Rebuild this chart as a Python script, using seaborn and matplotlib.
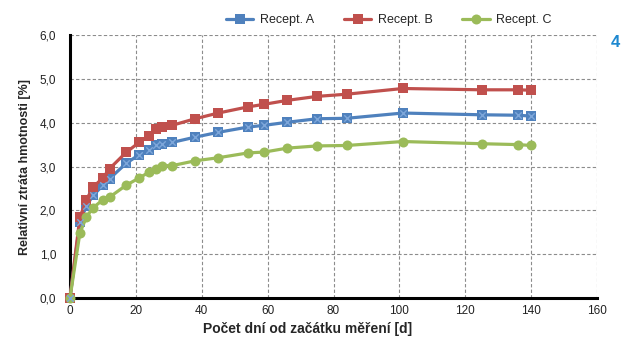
import pandas as pd
import numpy as np
import matplotlib
matplotlib.use("Agg")
import matplotlib.pyplot as plt
import seaborn as sns
from matplotlib.ticker import FuncFormatter

# days of measurement
days = [0, 3, 5, 7, 10, 12, 17, 21, 24, 26, 28, 31, 38, 45, 54, 59, 66,
        75, 84, 101, 125, 136, 140]

# relative mass loss [%]
recept_a = [0.0, 1.74, 2.10, 2.34, 2.57, 2.72, 3.07, 3.27, 3.38, 3.48, 3.52, 3.55,
            3.67, 3.78, 3.90, 3.94, 4.01, 4.09, 4.10, 4.22, 4.18, 4.17, 4.15]
recept_b = [0.0, 1.84, 2.24, 2.53, 2.74, 2.95, 3.32, 3.55, 3.70, 3.85, 3.90, 3.94,
            4.09, 4.22, 4.36, 4.42, 4.51, 4.60, 4.65, 4.78, 4.75, 4.75, 4.74]
recept_c = [0.0, 1.48, 1.85, 2.06, 2.24, 2.30, 2.57, 2.74, 2.87, 2.95, 3.02, 3.02,
            3.13, 3.20, 3.31, 3.33, 3.42, 3.47, 3.48, 3.57, 3.52, 3.50, 3.48]

series_names = ["Recept. A", "Recept. B", "Recept. C"]
colors = ["#4F81BD", "#C0504D", "#9BBB59"]
markers = ["s", "s", "o"]

df = pd.DataFrame({
    "day": days * 3,
    "loss": recept_a + recept_b + recept_c,
    "recept": np.repeat(series_names, len(days)),
})

sns.set_style("white")
plt.rcParams["font.family"] = ["Liberation Sans", "DejaVu Sans"]

fig = plt.figure(figsize=(6.22, 3.40), dpi=100)
ax = fig.add_axes([0.1125, 0.1235, 0.8475, 0.7735])

sns.lineplot(
    data=df, x="day", y="loss", hue="recept", style="recept",
    palette=colors, markers=markers, dashes=False,
    linewidth=2.3, markersize=7.2, markeredgewidth=0,
    ax=ax, legend=False, zorder=3,
)
# the x pattern on the A markers
sns.scatterplot(x=days, y=recept_a, marker="x", s=22, color="#7EA7DA",
                linewidth=1.0, ax=ax, zorder=4, legend=False)

# let the markers at the origin show over the spines
for ln in ax.lines:
    ln.set_clip_on(False)
for col in ax.collections:
    col.set_clip_on(False)

ax.set_xlim(0, 160)
ax.set_ylim(0, 6)
ax.set_xticks(range(0, 161, 20))
ax.set_yticks(range(0, 7))
ax.yaxis.set_major_formatter(FuncFormatter(lambda v, p: f"{v:.1f}".replace(".", ",")))

ax.grid(True, color="#8c8c8c", linestyle=(0, (3, 2)), linewidth=0.8)
for s in ["top", "right"]:
    ax.spines[s].set_visible(False)
for s in ["left", "bottom"]:
    ax.spines[s].set_color("black")
    ax.spines[s].set_linewidth(2.2)
    ax.spines[s].set_zorder(2.5)
ax.tick_params(axis="both", labelsize=8.5, length=0, colors="#222222")
ax.tick_params(axis="y", pad=10)
ax.tick_params(axis="x", pad=5)

ax.set_xlabel("Počet dní od začátku měření [d]", fontsize=10, fontweight="bold", labelpad=3)
ax.xaxis.set_label_coords(0.45, -0.09)
ax.set_ylabel("Relativní ztráta hmotnosti [%]", fontsize=9, fontweight="bold", labelpad=6)

handles = [plt.Line2D([], [], color=c, marker=m, linewidth=2.3, markersize=7.2,
                      markeredgewidth=0) for c, m in zip(colors, markers)]
fig.legend(handles, series_names, loc="center", bbox_to_anchor=(0.625, 0.94),
           ncol=3, frameon=False, fontsize=9, handlelength=2.2, columnspacing=2.4,
           handletextpad=0.5)

fig.text(0.997, 0.875, "4", color="#1E88D0", fontsize=12, fontweight="bold",
         ha="right", va="center")

fig.savefig("out.png", dpi=100)
